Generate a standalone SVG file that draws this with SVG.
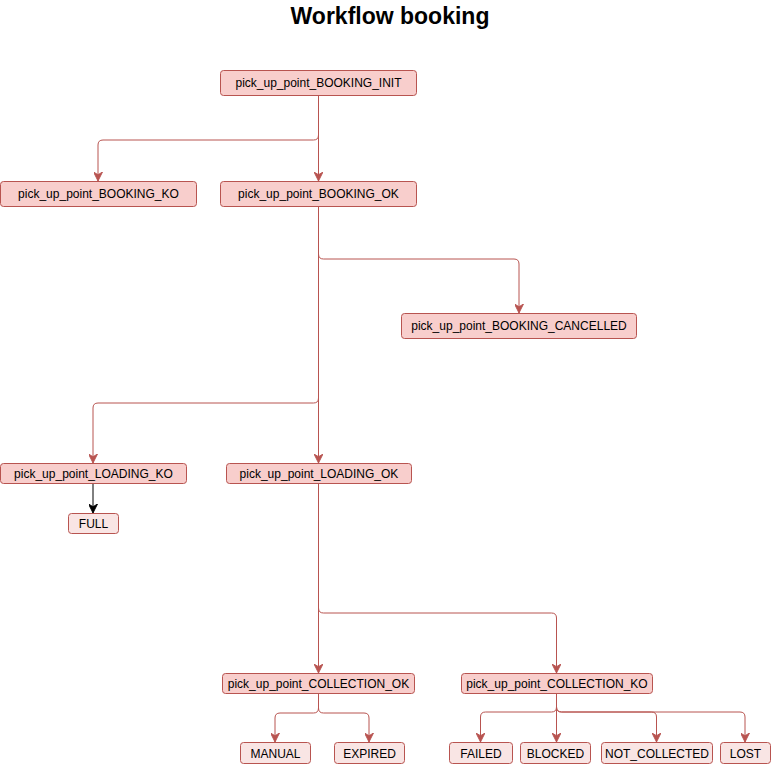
<svg xmlns="http://www.w3.org/2000/svg" width="771" height="764" viewBox="0 0 771 764">
<style>
.n rect{fill:#f8cecc;stroke:#b85450;stroke-width:1}
.l rect{fill:#f9e5e4;stroke:#b85450;stroke-width:1}
text{font-family:"Liberation Sans",Arial,sans-serif;font-size:12px;fill:#000;text-anchor:middle}
.title{font-size:23px;font-weight:bold}
.c path{fill:none;stroke:#b85450;stroke-width:1}
.c path.k{stroke:#000}
</style>
<defs>
<marker id="ar" viewBox="0 0 10 10" refX="10" refY="5" markerWidth="9" markerHeight="9" markerUnits="userSpaceOnUse" orient="auto">
<path d="M0,0 L10,5 L0,10 L3,5 z" fill="#b85450" stroke="#b85450" stroke-width="1"/>
</marker>
<marker id="ak" viewBox="0 0 10 10" refX="10" refY="5" markerWidth="9" markerHeight="9" markerUnits="userSpaceOnUse" orient="auto">
<path d="M0,0 L10,5 L0,10 L3,5 z" fill="#000" stroke="#000" stroke-width="1"/>
</marker>
</defs>
<rect width="771" height="764" fill="#fff"/>
<text class="title" x="390" y="24">Workflow booking</text>
<g class="c" id="connectors">
<path marker-end="url(#ar)" d="M318.5,95 V135 Q318.5,140 313.5,140 H103 Q98,140 98,145 V181"/>
<path marker-end="url(#ar)" d="M318.5,95 V181"/>
<path marker-end="url(#ar)" d="M318.5,206 V254 Q318.5,259 323.5,259 H514 Q519,259 519,264 V313"/>
<path marker-end="url(#ar)" d="M318.5,206 V398 Q318.5,403 313.5,403 H98 Q93,403 93,408 V463"/>
<path marker-end="url(#ar)" d="M318.5,206 V463"/>
<path class="k" marker-end="url(#ak)" d="M93,483 V513"/>
<path marker-end="url(#ar)" d="M318.5,483 V673"/>
<path marker-end="url(#ar)" d="M318.5,483 V608 Q318.5,613 323.5,613 H551.5 Q556.5,613 556.5,618 V673"/>
<path marker-end="url(#ar)" d="M318.5,693 V708 Q318.5,713 313.5,713 H280 Q275,713 275,718 V742"/>
<path marker-end="url(#ar)" d="M318.5,693 V708 Q318.5,713 323.5,713 H364 Q369,713 369,718 V742"/>
<path marker-end="url(#ar)" d="M556.5,693 V707 Q556.5,712 551.5,712 H485.5 Q480.5,712 480.5,717 V742"/>
<path marker-end="url(#ar)" d="M556.5,693 V742"/>
<path marker-end="url(#ar)" d="M556.5,693 V707 Q556.5,712 561.5,712 H651.5 Q656.5,712 656.5,717 V742"/>
<path marker-end="url(#ar)" d="M556.5,693 V707 Q556.5,712 561.5,712 H740 Q745,712 745,717 V742"/>
</g>
<g class="n" id="booking_init"><rect x="220.5" y="70.5" width="196" height="25" rx="3"/><text x="318.5" y="87">pick_up_point_BOOKING_INIT</text></g>
<g class="n" id="booking_ko"><rect x="0.5" y="181.5" width="196" height="25" rx="3"/><text x="98.5" y="198">pick_up_point_BOOKING_KO</text></g>
<g class="n" id="booking_ok"><rect x="220.5" y="181.5" width="196" height="25" rx="3"/><text x="318.5" y="198">pick_up_point_BOOKING_OK</text></g>
<g class="n" id="booking_cancelled"><rect x="401.5" y="313.5" width="235" height="25" rx="3"/><text x="519" y="330">pick_up_point_BOOKING_CANCELLED</text></g>
<g class="n" id="loading_ko"><rect x="0.5" y="463.5" width="186" height="20" rx="3"/><text x="93.5" y="478">pick_up_point_LOADING_KO</text></g>
<g class="n" id="loading_ok"><rect x="226.5" y="463.5" width="185" height="20" rx="3"/><text x="319" y="478">pick_up_point_LOADING_OK</text></g>
<g class="l" id="full"><rect x="68.5" y="513.5" width="50" height="20" rx="3"/><text x="93.5" y="528">FULL</text></g>
<g class="n" id="collection_ok"><rect x="222.5" y="673.5" width="192" height="20" rx="3"/><text x="318.5" y="688">pick_up_point_COLLECTION_OK</text></g>
<g class="n" id="collection_ko"><rect x="461.5" y="673.5" width="191" height="20" rx="3"/><text x="557" y="688">pick_up_point_COLLECTION_KO</text></g>
<g class="l" id="manual"><rect x="240.5" y="742.5" width="70" height="21" rx="3"/><text x="275.5" y="757.5">MANUAL</text></g>
<g class="l" id="expired"><rect x="334.5" y="742.5" width="70" height="21" rx="3"/><text x="369.5" y="757.5">EXPIRED</text></g>
<g class="l" id="failed"><rect x="449.5" y="742.5" width="63" height="21" rx="3"/><text x="481" y="757.5">FAILED</text></g>
<g class="l" id="blocked"><rect x="520.5" y="742.5" width="70" height="21" rx="3"/><text x="555.5" y="757.5">BLOCKED</text></g>
<g class="l" id="not_collected"><rect x="601.5" y="742.5" width="111" height="21" rx="3"/><text x="657" y="757.5">NOT_COLLECTED</text></g>
<g class="l" id="lost"><rect x="720.5" y="742.5" width="50" height="21" rx="3"/><text x="745.5" y="757.5">LOST</text></g>
</svg>
